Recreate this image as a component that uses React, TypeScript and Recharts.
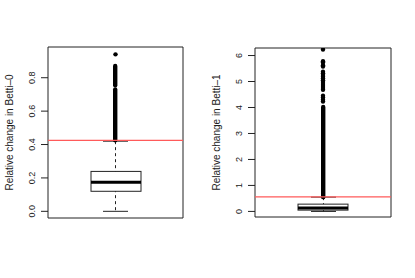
import { ComposedChart, Bar, Scatter, XAxis, YAxis, ReferenceLine, ReferenceArea, Label } from 'recharts'

// two boxplots: relative change in Betti-0 / Betti-1
const panelNames = ['Betti-0', 'Betti-1']
const yLabels = ['Relative change in Betti–0', 'Relative change in Betti–1']
const yTicks = [
  [0, 0.2, 0.4, 0.6, 0.8],
  [0, 1, 2, 3, 4, 5, 6],
]
const yDomains = [
  [-0.04, 0.984],
  [-0.215, 6.29],
]
const boxLow = [0.12, 0.05]
const boxMedian = [0.174, 0.13]
const boxHigh = [0.239, 0.28]
const whiskerLow = [0, 0]
const whiskerHigh = [0.42, 0.55]
const thresholds = [0.425, 0.557]

// outliers so dense they merge into a solid column: [from, to]
const denseRuns = [
  [
    [0.425, 0.73],
    [0.755, 0.87],
  ],
  [[0.55, 4.02]],
]
const outliers = [
  [0.94],
  [6.23, 5.78, 5.73, 5.63, 5.58, 5.38, 5.32, 5.25, 5.18, 5.12, 5.05, 4.98, 4.9, 4.83, 4.75, 4.68, 4.45, 4.38, 4.3, 4.23],
]

const font = '"Liberation Sans", Arial, sans-serif'
const ink = '#222'

const frame = [
  { left: 0, width: 200, margin: { top: 47, right: 17, bottom: 60, left: 0 }, axisW: 48 },
  { left: 200, width: 215, margin: { top: 48, right: 24, bottom: 61, left: 0 }, axisW: 55 },
]

function BoxShape(props: any) {
  const { x, y, width, height, payload } = props
  const top = Math.min(y, y + height)
  const h = Math.abs(height)
  const [lo, hi] = payload.box
  const my = top + (h * (hi - payload.median)) / (hi - lo)
  return (
    <g>
      <rect x={x} y={top} width={width} height={h} fill="#fff" stroke={ink} strokeWidth={1} />
      <line x1={x} x2={x + width} y1={my} y2={my} stroke="#000" strokeWidth={3} />
    </g>
  )
}

function WhiskerShape(props: any) {
  const { x, y, width, height } = props
  const top = Math.min(y, y + height)
  const bot = top + Math.abs(height)
  const cx = x + width / 2
  return (
    <g stroke={ink} strokeWidth={1}>
      <line x1={cx} x2={cx} y1={top} y2={bot} strokeDasharray="3 3" />
      <line x1={x} x2={x + width} y1={top} y2={top} />
      <line x1={x} x2={x + width} y1={bot} y2={bot} />
    </g>
  )
}

function RunShape(props: any) {
  const { x, y, width, height } = props
  const top = Math.min(y, y + height)
  const h = Math.abs(height)
  return <rect x={x} y={top - 2.2} width={width} height={h + 4.4} rx={width / 2} fill="#000" />
}

function Dot(props: any) {
  return <circle cx={props.cx} cy={props.cy} r={2.2} fill="#000" />
}

function Panel({ i }: { i: number }) {
  const f = frame[i]
  const name = panelNames[i]
  const row: any = {
    name,
    box: [boxLow[i], boxHigh[i]],
    median: boxMedian[i],
    whisker: [whiskerLow[i], whiskerHigh[i]],
  }
  denseRuns[i].forEach((r, k) => {
    row['run' + k] = r
  })
  const pts = outliers[i].map((v) => ({ pos: 0, v }))
  const dom = yDomains[i]
  const dec = i === 0 ? 1 : 0

  const tick = (p: any) => {
    const cx = p.x - 7
    return (
      <text
        transform={`translate(${cx},${p.y}) rotate(-90)`}
        textAnchor="middle"
        dy="0.35em"
        fontSize={9}
        fontFamily={font}
        fill={ink}
      >
        {Number(p.payload.value).toFixed(dec)}
      </text>
    )
  }

  return (
    <div style={{ position: 'absolute', left: f.left, top: 0 }}>
      <ComposedChart width={f.width} height={278} data={[row]} margin={f.margin}>
        <XAxis xAxisId="a" dataKey="name" type="category" hide />
        <XAxis xAxisId="b" dataKey="name" type="category" hide />
        <XAxis xAxisId="s" dataKey="pos" type="number" domain={[-1, 1]} allowDataOverflow hide />
        {denseRuns[i].map((_, k) => (
          <XAxis key={k} xAxisId={'r' + k} dataKey="name" type="category" hide />
        ))}
        <YAxis
          dataKey="v"
          type="number"
          domain={dom}
          ticks={yTicks[i]}
          allowDataOverflow
          interval={0}
          width={f.axisW}
          tickSize={7}
          tickLine={{ stroke: ink }}
          axisLine={false}
          tick={tick}
          label={
            <Label
              content={(p: any) => {
                const vb = p.viewBox
                return (
                  <text
                    transform={`translate(${vb.x + vb.width - 39},${vb.y + vb.height / 2}) rotate(-90)`}
                    textAnchor="middle"
                    dy="0.35em"
                    fontSize={10}
                    fontFamily={font}
                    fill={ink}
                  >
                    {yLabels[i]}
                  </text>
                )
              }}
            />
          }
        />
        <ReferenceArea xAxisId="s" x1={-1} x2={1} y1={dom[0]} y2={dom[1]} fill="none" stroke={ink} strokeWidth={1} ifOverflow="visible" />
        <Bar xAxisId="b" dataKey="whisker" barSize={25} shape={<WhiskerShape />} isAnimationActive={false} />
        <Bar xAxisId="a" dataKey="box" barSize={50} shape={<BoxShape />} isAnimationActive={false} />
        {denseRuns[i].map((_, k) => (
          <Bar key={k} xAxisId={'r' + k} dataKey={'run' + k} barSize={4.4} shape={<RunShape />} isAnimationActive={false} />
        ))}
        <Scatter xAxisId="s" data={pts} dataKey="v" shape={<Dot />} isAnimationActive={false} />
        <ReferenceLine xAxisId="a" y={thresholds[i]} stroke="#ff5a5a" strokeWidth={1.2} />
      </ComposedChart>
    </div>
  )
}

export default function App() {
  return (
    <div style={{ position: 'absolute', left: 0, top: 0, width: 415, height: 278, background: '#fff' }}>
      <Panel i={0} />
      <Panel i={1} />
    </div>
  )
}
